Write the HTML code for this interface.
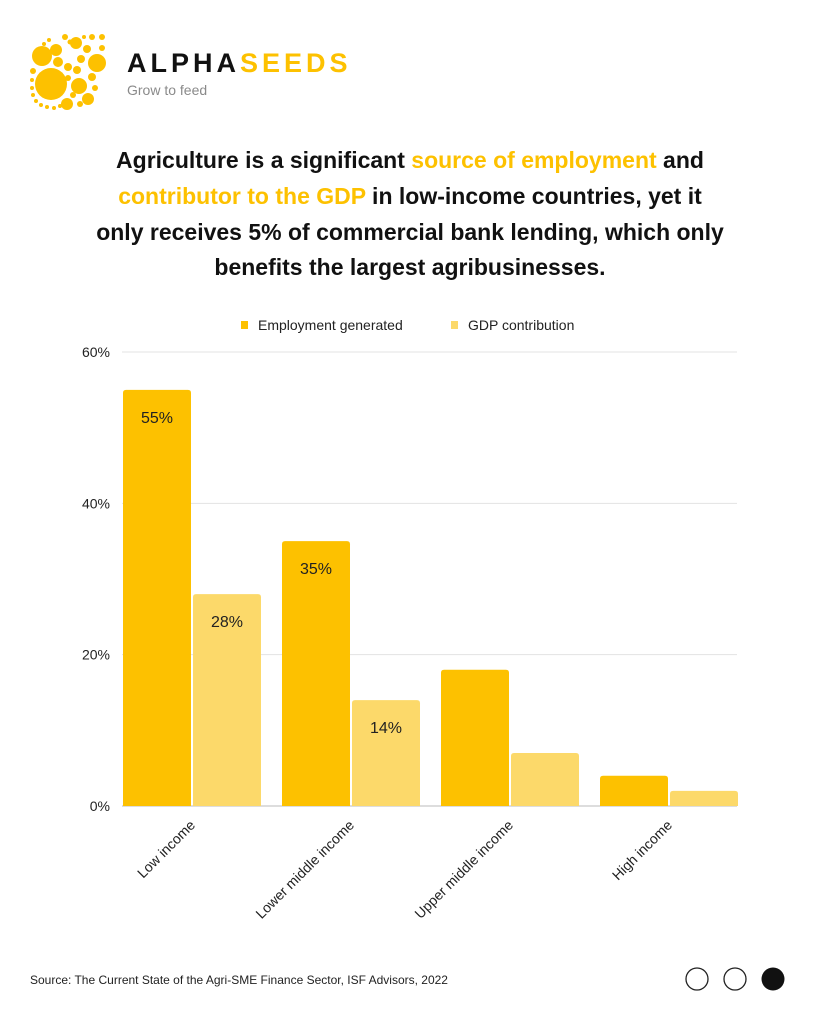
<!DOCTYPE html>
<html><head><meta charset="utf-8"><style>
body{margin:0;background:#fff;font-family:"Liberation Sans",sans-serif;}
#wrap{position:relative;width:819px;height:1024px;overflow:hidden;background:#fff}
</style></head><body>
<div id="wrap">
<svg width="819" height="1024">
<g fill="#FDC100" id="logo"></g>
<text x="127" y="72" font-size="27" font-weight="bold" letter-spacing="4"><tspan fill="#111">ALPHA</tspan><tspan fill="#FDC100">SEEDS</tspan></text>
<text x="127" y="95" font-size="14" fill="#8a8a8a">Grow to feed</text>
<g font-size="23" font-weight="bold" text-anchor="middle" fill="#111">
<text x="410" y="168">Agriculture is a significant <tspan fill="#FDC100">source of employment</tspan> and</text>
<text x="410" y="204"><tspan fill="#FDC100">contributor to the GDP</tspan> in low-income countries, yet it</text>
<text x="410" y="240">only receives 5% of commercial bank lending, which only</text>
<text x="410" y="275">benefits the largest agribusinesses.</text>
</g>
<g font-size="14" fill="#222">
<rect x="241" y="321" width="7" height="8" fill="#FDC100"/>
<text x="258" y="330">Employment generated</text>
<rect x="451" y="321" width="7" height="8" fill="#FCD96A"/>
<text x="468" y="330">GDP contribution</text>
</g>
<g id="plot"></g>
<text x="30" y="984" font-size="12" fill="#222">Source:  The Current State of the Agri-SME Finance Sector, ISF Advisors, 2022</text>
<circle cx="697" cy="979" r="11" fill="none" stroke="#222" stroke-width="1.3"/>
<circle cx="735" cy="979" r="11" fill="none" stroke="#222" stroke-width="1.3"/>
<circle cx="773" cy="979" r="11.5" fill="#111"/>
</svg>
</div>
<script>
const categories=["Low income","Lower middle income","Upper middle income","High income"];
const employment=[55,35,18,4];
const gdp=[28,14,7,2];
const empLabels=["55%","35%","",""];
const gdpLabels=["28%","14%","",""];
const yTicks=[0,20,40,60];
const NS="http://www.w3.org/2000/svg";
function mk(t,a,p){const e=document.createElementNS(NS,t);for(const k in a)e.setAttribute(k,a[k]);p.appendChild(e);return e;}
const y=v=>806-v*(454/60);
const gx=i=>123+i*159;
const plot=document.getElementById('plot');
yTicks.forEach(t=>{
 const l=mk('line',{x1:122,x2:737,y1:y(t),y2:y(t),stroke:t===0?'#bbb':'#e3e3e3','stroke-width':1},plot);
 
 
 const tx=mk('text',{x:110,y:y(t)+5,'text-anchor':'end','font-size':14,fill:'#222'},plot);
 tx.textContent=t+'%';
 
 
});
categories.forEach((c,i)=>{
 [[employment,'#FDC100',0,empLabels,'employment'],[gdp,'#FCD96A',70,gdpLabels,'gdp']].forEach(([arr,col,off,lab,nm])=>{
  const v=arr[i];
  const b=mk('path',{d:`M${gx(i)+off},806 V${y(v)+3} q0,-3 3,-3 H${gx(i)+off+65} q3,0 3,3 V806 Z`,fill:col},plot);
  
  
  if(lab[i]){const t=mk('text',{x:gx(i)+off+34,y:y(v)+33,'text-anchor':'middle','font-size':16,fill:'#222'},plot);
   t.textContent=lab[i];
   
   }
 });
 const cx=gx(i)+73;
 const t=mk('text',{x:cx,y:826,'text-anchor':'end','font-size':14,fill:'#222',transform:`rotate(-45 ${cx} 826)`},plot);
 t.textContent=c;
 
 
});
const logo=document.getElementById('logo');
[[51,84,16],[42,56,10],[56,50,6],[76,43,6],[97,63,9],[79,86,8],[88,99,6],[67,104,6],[92,77,4],[81,59,4],[58,62,5],[68,67,4],[77,70,4],[102,37,3],[92,37,3],[84,37,2],[65,37,3],[87,49,4],[102,48,3],[33,71,3],[70,42,2.5],[49,40,2],[44,44,2],[61,88,3],[73,95,3],[95,88,3],[80,104,3],[68,78,3],[32,80,2],[32,88,2],[33,95,2],[36,101,2],[41,105,2],[47,107,2],[54,108,2],[60,106,2]].forEach((c,k)=>{
 const e=mk('circle',{cx:c[0],cy:c[1],r:c[2]},logo);
 
 
});
</script>
</body></html>
